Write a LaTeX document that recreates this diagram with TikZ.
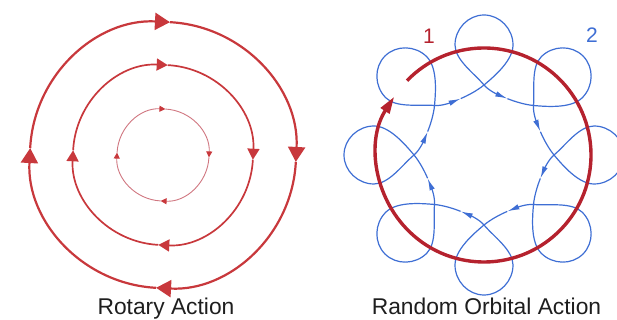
\documentclass[tikz,border=0pt]{standalone}
\usepackage{fontspec}
\setmainfont{Liberation Sans}
\usetikzlibrary{arrows.meta}

\definecolor{ringred}{RGB}{200,56,60}
\definecolor{ringpink}{RGB}{208,118,128}
\definecolor{padred}{RGB}{181,34,46}
\definecolor{orbitblue}{RGB}{62,110,212}
\definecolor{captext}{RGB}{30,30,30}

\begin{document}
\begin{tikzpicture}[
    x=1pt, y=1pt,
    ringbig/.style  ={line width=2.2pt, ringred, -{Triangle[length=15pt, width=17pt]}},
    ringmid/.style  ={line width=1.7pt, ringred, -{Triangle[length=11pt, width=12pt]}},
    ringsmall/.style={line width=0.9pt, ringpink, -{Triangle[length=6pt, width=6pt, color=ringred]}},
    padtrack/.style ={line width=3.4pt, padred, -{Triangle[length=17pt, width=10pt]}},
    orbitline/.style={line width=1.2pt, orbitblue, -{Latex[length=12pt, width=5.5pt]}},
    caption/.style  ={font=\fontsize{22.8}{26}\selectfont, text=captext, anchor=base},
    numlabel/.style ={font=\fontsize{21}{24}\selectfont}
]

% ---------- page frame ----------
\useasboundingbox (0,0) rectangle (617,320);

% ---------- centres ----------
\coordinate (L) at (163,165);   % rotary rings
\coordinate (O) at (484,165);   % orbital pad

% ---------- rotary action: three rings, clockwise ----------
\foreach \a in {90,0,-90,-180} {
  \draw[ringbig]   (L) ++({\a+87}:133) arc[start angle=\a+87, end angle=\a-3, radius=133];
  \draw[ringmid]   (L) ++({\a+87}:90)  arc[start angle=\a+87, end angle=\a-3, radius=90];
  \draw[ringsmall] (L) ++({\a+87}:46)  arc[start angle=\a+87, end angle=\a-3, radius=46];
}

% ---------- random orbital: looping path of one grit (8 loops) ----------
\foreach \t in {90,45,...,-225} {
  \begin{scope}[shift={(O)}, rotate=\t]
    \draw[orbitline] (56.4,23.3)
      .. controls (59.5,15.9) and (64.9,6.1) .. (70,0)
      .. controls (79.6,-11.5) and (95,-29) .. (110,-29)
      .. controls (126,-29) and (140,-16) .. (140,0)
      .. controls (140,16) and (126,29) .. (110,29)
      .. controls (95,29) and (81.5,9.6) .. (70,0)
      .. controls (63.9,-5.1) and (59.5,-15.9) .. (56.4,-23.3);
  \end{scope}
}

% ---------- random orbital: pad rotation ----------
\draw[padtrack] (O) ++(136:107) arc[start angle=136, end angle=-213, radius=107];

% ---------- labels ----------
\node[numlabel, padred]    (lblone) at (429,284) {1};
\node[numlabel, orbitblue] (lbltwo) at (592,285) {2};
\node[caption] (rotcap) at (166,5)   {Rotary Action};
\node[caption] (orbcap) at (486.5,5) {Random Orbital Action};

\end{tikzpicture}
\end{document}
